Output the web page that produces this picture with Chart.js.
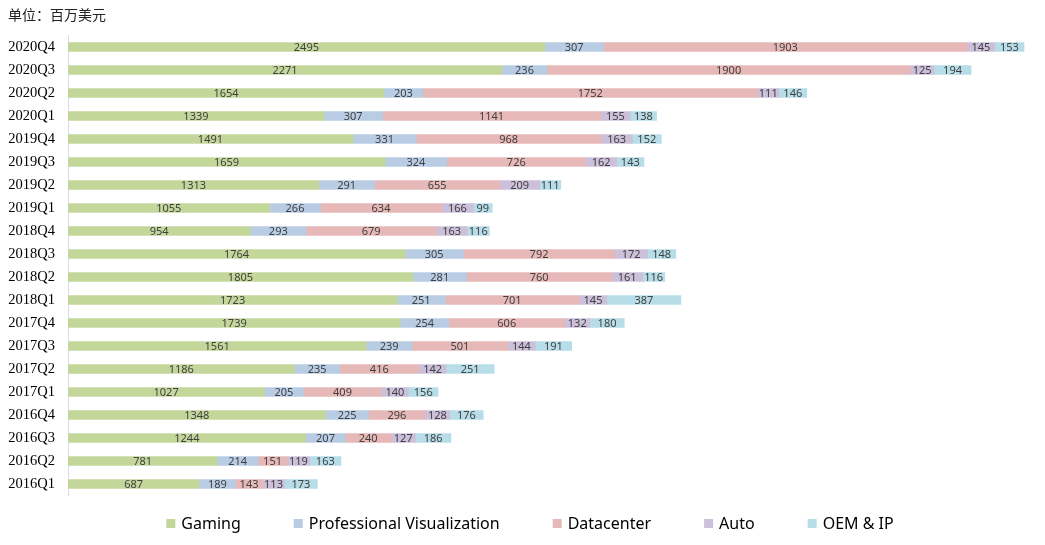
<!DOCTYPE html>
<html>
<head>
<meta charset="utf-8">
<script src="https://cdn.jsdelivr.net/npm/chart.js@4/dist/chart.umd.min.js"></script>
<style>
  html, body { margin: 0; padding: 0; background: #fff; }
  #wrap { width: 1045px; height: 545px; }
</style>
</head>
<body>
<div id="wrap"><canvas id="myChart"></canvas></div>
<script>
var quarters = ["2020Q4", "2020Q3", "2020Q2", "2020Q1", "2019Q4", "2019Q3", "2019Q2", "2019Q1", "2018Q4", "2018Q3",
                "2018Q2", "2018Q1", "2017Q4", "2017Q3", "2017Q2", "2017Q1", "2016Q4", "2016Q3", "2016Q2", "2016Q1"];
var gaming     = [2495, 2271, 1654, 1339, 1491, 1659, 1313, 1055, 954, 1764, 1805, 1723, 1739, 1561, 1186, 1027, 1348, 1244, 781, 687];
var proViz     = [307, 236, 203, 307, 331, 324, 291, 266, 293, 305, 281, 251, 254, 239, 235, 205, 225, 207, 214, 189];
var datacenter = [1903, 1900, 1752, 1141, 968, 726, 655, 634, 679, 792, 760, 701, 606, 501, 416, 409, 296, 240, 151, 143];
var auto       = [145, 125, 111, 155, 163, 162, 209, 166, 163, 172, 161, 145, 132, 144, 142, 140, 128, 127, 119, 113];
var oemIp      = [153, 194, 146, 138, 152, 143, 111, 99, 116, 148, 116, 387, 180, 191, 251, 156, 176, 186, 163, 173];
var seriesNames = ["Gaming", "Professional Visualization", "Datacenter", "Auto", "OEM & IP"];
var seriesColors = ["#c4d79b", "#b8cce4", "#e6b8b7", "#ccc0da", "#b7dee8"];

var allSeries = [gaming, proViz, datacenter, auto, oemIp];
var datasets = allSeries.map(function (vals, i) {
  return {
    label: seriesNames[i],
    data: vals,
    backgroundColor: seriesColors[i],
    borderWidth: 0,
    barThickness: 9
  };
});

// value in the middle of each segment
var segLabels = {
  id: "segLabels",
  afterDatasetsDraw: function (chart) {
    var ctx = chart.ctx;
    ctx.save();
    ctx.font = "11px 'Noto Sans'";
    ctx.fillStyle = "#404040";
    ctx.textAlign = "center";
    ctx.textBaseline = "middle";
    chart.data.datasets.forEach(function (ds, i) {
      var meta = chart.getDatasetMeta(i);
      meta.data.forEach(function (bar, j) {
        var p = bar.getProps(["x", "base", "y"], true);
        ctx.fillText(ds.data[j], (p.x + p.base) / 2, p.y + 0.5);
      });
    });
    ctx.restore();
  }
};

// legend at the bottom with wide gaps
var bottomLegend = {
  id: "bottomLegend",
  afterDraw: function (chart) {
    var ctx = chart.ctx;
    var gap = 53, box = 9, textGap = 6;
    ctx.save();
    ctx.font = "16px 'Noto Sans'";
    var widths = chart.data.datasets.map(function (ds) { return ctx.measureText(ds.label).width; });
    var total = 0;
    widths.forEach(function (w, i) { total += box + textGap + w + (i > 0 ? gap : 0); });
    var x = 530 - total / 2;
    var y = 524;
    ctx.textBaseline = "middle";
    ctx.textAlign = "left";
    chart.data.datasets.forEach(function (ds, i) {
      ctx.fillStyle = ds.backgroundColor;
      ctx.fillRect(x, y - 5, box, box);
      ctx.fillStyle = "#000";
      ctx.fillText(ds.label, x + box + textGap, y);
      x += box + textGap + widths[i] + gap;
    });
    ctx.restore();
  }
};

new Chart("myChart", {
  type: "bar",
  data: {
    labels: quarters,
    datasets: datasets
  },
  plugins: [segLabels, bottomLegend],
  options: {
    indexAxis: "y",
    responsive: true,
    maintainAspectRatio: false,
    animation: false,
    layout: { padding: { left: 8, right: 12, top: 0, bottom: 49.5 } },
    plugins: {
      legend: { display: false },
      tooltip: { enabled: false },
      title: {
        display: true,
        text: "单位：百万美元",
        align: "start",
        color: "#222",
        font: { family: "'Noto Sans CJK SC'", size: 14, weight: "normal" },
        padding: { top: 6, bottom: 12.7 }
      }
    },
    scales: {
      x: {
        stacked: true,
        display: false,
        min: 0,
        max: 5050
      },
      y: {
        stacked: true,
        afterFit: function (scale) { scale.width = 60; },
        grid: { display: false, drawTicks: false },
        border: { display: true, color: "#d3dbee", width: 1 },
        ticks: {
          color: "#000",
          padding: 13,
          font: { family: "'Liberation Serif'", size: 14.5 }
        }
      }
    }
  }
});
</script>
</body>
</html>
